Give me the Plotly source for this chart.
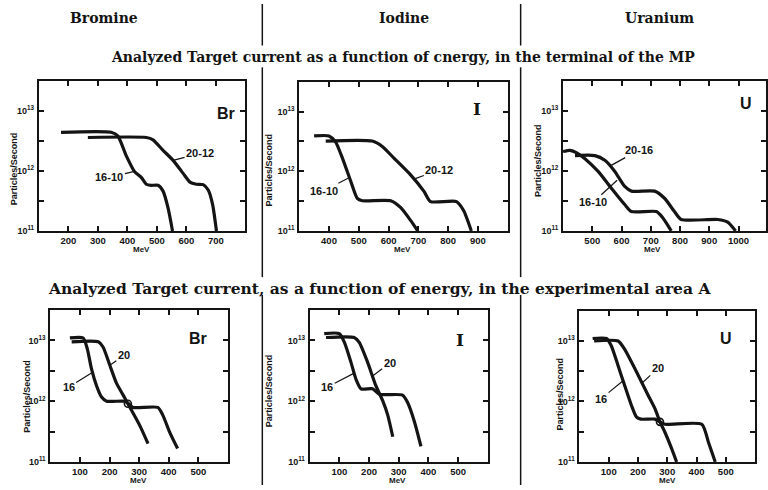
import math
import plotly.graph_objects as go

W, H = 768, 490

# ---------------- data ----------------
# Top row: terminal of the MP
br_t_1610_x = [175, 345, 368, 396, 424, 447, 464, 481, 504, 521, 538, 553]
br_t_1610_y = [4.4e12, 4.4e12, 3.8e12, 1.8e12, 9.8e11, 7.8e11, 6.0e11, 5.75e11, 5.75e11, 4.6e11, 2.4e11, 1.0e11]
br_t_2012_x = [266, 464, 487, 521, 555, 589, 612, 634, 657, 674, 689, 702]
br_t_2012_y = [3.6e12, 3.6e12, 3.3e12, 2.2e12, 1.5e12, 9.1e11, 6.5e11, 6.0e11, 5.9e11, 4.8e11, 2.75e11, 1.0e11]

i_t_1610_x = [350, 400, 422, 445, 473, 495, 512, 607, 641, 674, 698]
i_t_1610_y = [3.9e12, 3.9e12, 3.1e12, 1.66e12, 6.8e11, 3.5e11, 3.2e11, 3.2e11, 2.45e11, 1.5e11, 1.0e11]
i_t_2012_x = [389, 545, 579, 618, 674, 719, 741, 828, 852, 878]
i_t_2012_y = [3.2e12, 3.2e12, 2.6e12, 1.66e12, 8.7e11, 4.6e11, 3.1e11, 3.1e11, 2.2e11, 1.0e11]

u_t_1610_x = [400, 424, 447, 475, 520, 566, 611, 634, 719, 741, 770]
u_t_1610_y = [2.1e12, 2.2e12, 2.0e12, 1.6e12, 9.8e11, 5.1e11, 2.75e11, 2.1e11, 2.1e11, 1.66e11, 1.0e11]
u_t_2016_x = [441, 509, 543, 577, 611, 634, 713, 747, 781, 804, 929, 963, 990]
u_t_2016_y = [1.8e12, 1.8e12, 1.5e12, 9.8e11, 5.5e11, 4.6e11, 4.6e11, 3.5e11, 2.1e11, 1.55e11, 1.55e11, 1.4e11, 1.0e11]

# Bottom row: experimental area A
br_b_16_x = [66, 111, 125, 139, 156, 173, 190, 251, 265, 279, 363, 380, 403, 430]
br_b_16_y = [1.1e13, 1.1e13, 7.2e12, 3.4e12, 1.8e12, 1.17e12, 1.0e12, 1.0e12, 9.1e11, 7.9e11, 7.9e11, 5.9e11, 3.1e11, 1.66e11]
br_b_20_x = [72, 162, 178, 201, 223, 246, 262, 302, 330]
br_b_20_y = [9.5e12, 9.5e12, 7.8e12, 3.9e12, 2.0e12, 1.26e12, 9.1e11, 4.0e11, 2.0e11]

i_b_16_x = [49, 100, 117, 139, 156, 173, 212, 235, 313, 330, 353, 375]
i_b_16_y = [1.3e13, 1.3e13, 9.3e12, 4.4e12, 2.3e12, 1.6e12, 1.6e12, 1.3e12, 1.26e12, 9.5e11, 4.6e11, 1.8e11]
i_b_20_x = [55, 150, 167, 195, 223, 246, 263, 280]
i_b_20_y = [1.12e13, 1.12e13, 9.3e12, 4.4e12, 1.8e12, 1.02e12, 5.9e11, 2.6e11]

u_b_16_x = [45, 92, 109, 132, 155, 178, 195, 210, 258, 275, 292, 418, 441, 464]
u_b_16_y = [1.1e13, 1.1e13, 8.3e12, 3.9e12, 1.8e12, 8.5e11, 5.5e11, 5.1e11, 5.1e11, 4.6e11, 4.2e11, 4.2e11, 2.1e11, 1.0e11]
u_b_20_x = [50, 132, 155, 201, 235, 258, 275, 292, 315, 332]
u_b_20_y = [1.0e13, 1.0e13, 7.2e12, 2.7e12, 1.26e12, 7.6e11, 4.6e11, 3.1e11, 1.66e11, 1.0e11]

# crossing circles (bottom Br, bottom U)
circle_br_x, circle_br_y = [262], [9.1e11]
circle_u_x, circle_u_y = [275], [4.6e11]

# tick labels
y_tickvals = [1e11, 10**11.5, 1e12, 10**12.5, 1e13]
y_ticktext = ["10<sup>11</sup>", "", "10<sup>12</sup>", "", "10<sup>13</sup>"]
br_t_ticks = [200, 300, 400, 500, 600, 700]
i_t_ticks = [400, 500, 600, 700, 800, 900]
u_t_ticks = [500, 600, 700, 800, 900, 1000]
b_ticks = [100, 200, 300, 400, 500]

headers = ["Bromine", "Iodine", "Uranium"]
title_top = "Analyzed Target current as a function of cnergy, in the terminal of the MP"
title_bottom = "Analyzed Target current, as a function of energy, in the experimental area A"

# ---------------- layout helpers ----------------
def px(x):
    return x / W

def py(y):
    return 1 - y / H

INK = "#141414"
SANS = "Liberation Sans"
SERIF = "DejaVu Serif"

# panel: (x0px, x1px, y_top_px, y_bot_px, xrange, xticks)
panels = [
    (39, 246, 81.7, 233.3, [100, 800], br_t_ticks),
    (300, 509, 82.5, 233.3, [300, 1000], i_t_ticks),
    (564.5, 768, 81.7, 233.3, [400, 1094], u_t_ticks),
    (50.5, 228.5, 313.3, 466.7, [0, 600], b_ticks),
    (310.5, 489, 313.3, 466.7, [0, 600], b_ticks),
    (581, 757, 314, 466.7, [0, 600], b_ticks),
]

fig = go.Figure()
layout = dict(width=W, height=H, margin=dict(l=0, r=0, t=0, b=0),
              paper_bgcolor="white", plot_bgcolor="white", showlegend=False)

for k, (x0, x1, yt, yb, xr, xt) in enumerate(panels):
    n = "" if k == 0 else str(k + 1)
    layout["xaxis" + n] = dict(
        domain=[px(x0), px(x1)], range=xr, anchor="y" + n,
        tickvals=xt, ticktext=[str(v) for v in xt],
        showline=True, linewidth=2, linecolor=INK, mirror="ticks",
        ticks="inside", ticklen=5, tickwidth=1.5, tickcolor=INK,
        showgrid=False, zeroline=False,
        tickfont=dict(family=SANS, size=9.5, color=INK, weight="bold"),
        ticklabelstandoff=0,
    )
    layout["yaxis" + n] = dict(
        domain=[py(yb), py(yt)], type="log", range=[11, 13.5], anchor="x" + n,
        tickvals=y_tickvals, ticktext=y_ticktext,
        showline=True, linewidth=2, linecolor=INK, mirror="ticks",
        ticks="inside", ticklen=5, tickwidth=1.5, tickcolor=INK,
        showgrid=False, zeroline=False,
        tickfont=dict(family=SANS, size=9, color=INK, weight="bold"),
        ticklabelstandoff=1,
    )

series = [
    (0, br_t_1610_x, br_t_1610_y), (0, br_t_2012_x, br_t_2012_y),
    (1, i_t_1610_x, i_t_1610_y), (1, i_t_2012_x, i_t_2012_y),
    (2, u_t_1610_x, u_t_1610_y), (2, u_t_2016_x, u_t_2016_y),
    (3, br_b_16_x, br_b_16_y), (3, br_b_20_x, br_b_20_y),
    (4, i_b_16_x, i_b_16_y), (4, i_b_20_x, i_b_20_y),
    (5, u_b_16_x, u_b_16_y), (5, u_b_20_x, u_b_20_y),
]
for k, xs, ys in series:
    n = "" if k == 0 else str(k + 1)
    fig.add_trace(go.Scatter(x=xs, y=ys, mode="lines", xaxis="x" + n, yaxis="y" + n,
                             line=dict(color=INK, width=3.2, shape="spline", smoothing=0.6),
                             cliponaxis=True, hoverinfo="skip"))

for k, cx, cy in [(3, circle_br_x, circle_br_y), (5, circle_u_x, circle_u_y)]:
    n = str(k + 1)
    fig.add_trace(go.Scatter(x=cx, y=cy, mode="markers", xaxis="x" + n, yaxis="y" + n,
                             marker=dict(symbol="circle-open", size=7, color=INK, line=dict(width=1.6)),
                             hoverinfo="skip"))

ann = []

def ptext(text, x, y, size, family, angle=0):
    ann.append(dict(text=text, x=px(x), y=py(y), xref="paper", yref="paper", showarrow=False,
                    xanchor="center", yanchor="middle", textangle=angle,
                    font=dict(family=family, size=size, color=INK, weight="bold")))

# headers and titles
for txt, cx in zip(headers, [104, 405, 661]):
    ptext(txt, cx, 18, 14, SERIF)
ptext(title_top, 404, 58, 14, SERIF)
ptext(title_bottom, 380, 291, 15.5, SERIF)

# MeV and y titles
mev_x = [142, 404, 654, 139, 399, 669]
for k, (x0, x1, yt, yb, xr, xt) in enumerate(panels):
    ptext("MeV", mev_x[k], yb + 19, 8, SANS)
ylab_pos = [(14, 170), (270, 172), (540, 162), (27, 400), (270, 395), (561, 398)]
for (xx, yy) in ylab_pos:
    ptext("Particles/Second", xx, yy, 9, SANS, -90)

# element symbols
elem = [("Br", 226.7, 115, SANS, 16), ("I", 478.3, 110, SERIF, 17), ("U", 748.3, 105, SANS, 16),
        ("Br", 198.3, 342, SANS, 16), ("I", 461.7, 343, SERIF, 17), ("U", 728.3, 342, SANS, 16)]
for t, xx, yy, f, s in elem:
    ptext(t, xx, yy, s, f)

# curve labels with leader lines: (panel, label, curve x, curve y, ax, ay)
labels = [
    (0, "20-12", 555, 1.5e12, 27, -7),
    (0, "16-10", 424, 9.8e11, -25, 6),
    (1, "20-12", 690, 7.5e11, 24, -9),
    (1, "16-10", 467, 7.8e11, -25, 13),
    (2, "20-16", 560, 1.2e12, 29, -16),
    (2, "16-10", 585, 7.0e11, -24, 22),
    (3, "20", 201, 3.9e12, 14, -10),
    (3, "16", 143, 3.0e12, -24, 15),
    (4, "20", 212, 2.6e12, 17, -13),
    (4, "16", 150, 2.9e12, -27, 14),
    (5, "20", 213, 2.0e12, 16, -15),
    (5, "16", 149, 2.2e12, -22, 18),
]
for k, t, x, y, ax, ay in labels:
    n = "" if k == 0 else str(k + 1)
    ann.append(dict(text=t, x=x, y=math.log10(y), xref="x" + n, yref="y" + n,
                    showarrow=True, arrowhead=0, arrowwidth=1.2, arrowcolor=INK, ax=ax, ay=ay,
                    standoff=0, startstandoff=0,
                    font=dict(family=SANS, size=11, color=INK, weight="bold")))
layout["annotations"] = ann

# separator lines
shapes = []
for xx in [263, 522]:
    for (a, b) in [(4, 46), (68, 280), (298, 490)]:
        shapes.append(dict(type="line", xref="paper", yref="paper", x0=px(xx), x1=px(xx),
                           y0=py(a), y1=py(b), line=dict(color=INK, width=1.5)))
layout["shapes"] = shapes

fig.update_layout(**layout)
fig.write_html("out.html")
